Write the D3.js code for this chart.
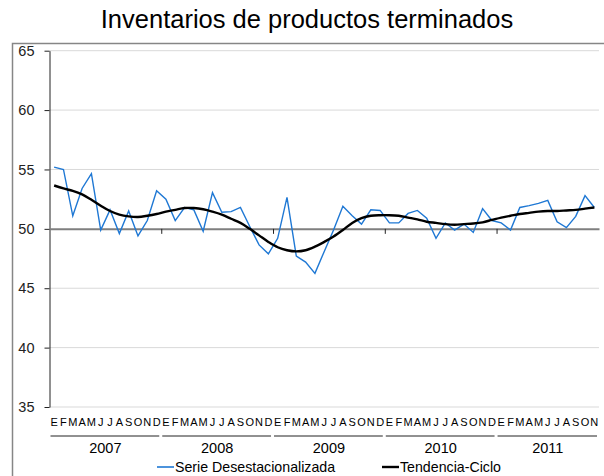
<!DOCTYPE html>
<html>
<head>
<meta charset="utf-8">
<script src="https://cdn.jsdelivr.net/npm/d3@7"></script>
<style>
  body { margin: 0; background: #fff; }
  svg { font-family: "Liberation Sans", Arial, sans-serif; }
</style>
</head>
<body>
<div id="chart"></div>
<script>
const svgWidth = 604;
const svgHeight = 476;
const fontFamily = "'Liberation Sans', Arial, sans-serif";

// Data
const years = ["2007", "2008", "2009", "2010", "2011"];
const monthsPerYear = [12, 12, 12, 12, 11];
const monthLetters = ["E", "F", "M", "A", "M", "J", "J", "A", "S", "O", "N", "D"];

const serieDesest = [
  55.2, 55.0, 51.1, 53.4, 54.65, 49.9, 51.6, 49.6, 51.5, 49.4, 50.7, 53.2,
  52.5, 50.7, 51.8, 51.6, 49.8, 53.05, 51.4, 51.45, 51.8, 50.2, 48.65, 47.9,
  49.2, 52.65, 47.7, 47.2, 46.25, 48.1, 49.9, 51.9, 51.1, 50.4, 51.6, 51.55,
  50.5, 50.5, 51.3, 51.55, 50.9, 49.2, 50.5, 49.9, 50.4, 49.7, 51.7, 50.7,
  50.5, 49.9, 51.8, 51.95, 52.15, 52.4, 50.6, 50.1, 51.05, 52.8, 51.8
];

const tendencia = [
  53.65, 53.4, 53.2, 52.9, 52.45, 51.95, 51.5, 51.2, 51.05, 51.0, 51.1, 51.25,
  51.45, 51.6, 51.75, 51.75, 51.65, 51.45, 51.2, 50.85, 50.5, 50.0, 49.45, 48.9,
  48.45, 48.2, 48.1, 48.2, 48.5, 48.9, 49.35, 49.9, 50.5, 50.9, 51.1, 51.15,
  51.15, 51.1, 50.95, 50.8, 50.6, 50.5, 50.4, 50.35, 50.4, 50.45, 50.55, 50.75,
  50.95, 51.1, 51.25, 51.35, 51.45, 51.5, 51.5, 51.55, 51.6, 51.7, 51.8
];

const yTicks = [35, 40, 45, 50, 55, 60, 65];

// month label for each point
const monthLabels = [];
monthsPerYear.forEach(n => {
  for (let m = 0; m < n; m++) monthLabels.push(monthLetters[m]);
});
const nPoints = monthLabels.length;

const plot = { left: 49.5, right: 599, top: 50.7, bottom: 407 };

const svg = d3.select("#chart")
  .append("svg")
  .attr("width", svgWidth)
  .attr("height", svgHeight);

// outer chart frame (runs off the right and bottom edges)
svg.append("rect")
  .attr("x", 12.5)
  .attr("y", 43.5)
  .attr("width", 640)
  .attr("height", 480)
  .attr("fill", "none")
  .attr("stroke", "#868686")
  .attr("stroke-width", 1.5);

// title
svg.append("text")
  .attr("x", 307)
  .attr("y", 28)
  .attr("text-anchor", "middle")
  .style("font-size", "25.5px")
  .style("fill", "#000")
  .text("Inventarios de productos terminados");

// scales
const xLin = d3.scaleLinear()
  .domain([0, nPoints])
  .range([plot.left, plot.right]);

const xBand = d3.scaleBand()
  .domain(d3.range(nPoints))
  .range([plot.left, plot.right])
  .padding(0);

const xPt = i => xBand(i) + xBand.bandwidth() / 2;

const y = d3.scaleLinear()
  .domain([35, 65])
  .range([plot.bottom, plot.top]);

// gridlines
svg.append("g")
  .selectAll("line")
  .data(yTicks.filter(d => d !== 50))
  .enter()
  .append("line")
  .attr("x1", plot.left)
  .attr("x2", plot.right)
  .attr("y1", d => y(d))
  .attr("y2", d => y(d))
  .attr("stroke", "#d9d9d9")
  .attr("stroke-width", 1);

// y axis
const leftAxis = d3.axisLeft(y)
  .tickValues(yTicks)
  .tickSize(5)
  .tickSizeOuter(0)
  .tickPadding(10);

const yAxis = svg.append("g")
  .attr("transform", `translate(${plot.left}, 0)`)
  .call(leftAxis);
yAxis.select(".domain").attr("stroke", "#222").attr("stroke-width", 1);
yAxis.selectAll(".tick line").attr("stroke", "#222");
yAxis.selectAll("text")
  .style("font-size", "14.5px")
  .style("font-family", fontFamily)
  .attr("fill", "#222");

// x axis crossing at 50, ticks at year boundaries
const yearStarts = [];
let acc = 0;
monthsPerYear.forEach(n => { yearStarts.push(acc); acc += n; });

const bottomAxis = d3.axisBottom(xLin)
  .tickValues(yearStarts.slice(1))
  .tickSize(5)
  .tickSizeOuter(0)
  .tickFormat("");

const xAxis = svg.append("g")
  .attr("transform", `translate(0, ${y(50)})`)
  .call(bottomAxis);
xAxis.select(".domain").attr("stroke", "#7f7f7f").attr("stroke-width", 2);
xAxis.selectAll(".tick line").attr("stroke", "#222");

// month letters
const monthAxis = d3.axisBottom(xBand)
  .tickSize(0)
  .tickPadding(0)
  .tickFormat(i => monthLabels[i]);

const mAxis = svg.append("g")
  .attr("transform", `translate(0, 418)`)
  .call(monthAxis);
mAxis.select(".domain").remove();
mAxis.selectAll("text")
  .style("font-size", "11px")
  .style("font-family", fontFamily)
  .attr("fill", "#000");

// year separators and labels
const yearGroup = svg.append("g");
years.forEach((yr, k) => {
  const start = yearStarts[k];
  const end = start + monthsPerYear[k];
  yearGroup.append("line")
    .attr("x1", xLin(start) + 1)
    .attr("x2", xLin(end) - 2)
    .attr("y1", 436)
    .attr("y2", 436)
    .attr("stroke", "#222")
    .attr("stroke-width", 1);
  yearGroup.append("text")
    .attr("x", xLin((start + end) / 2))
    .attr("y", 453)
    .attr("text-anchor", "middle")
    .style("font-size", "14.5px")
    .attr("fill", "#000")
    .text(yr);
});

// lines
const serieLine = d3.line()
  .x((d, i) => xPt(i))
  .y(d => y(d));

const trendLine = d3.line()
  .x((d, i) => xPt(i))
  .y(d => y(d))
  .curve(d3.curveCatmullRom.alpha(0.5));

svg.append("path")
  .datum(serieDesest)
  .attr("fill", "none")
  .attr("stroke", "#1f78d4")
  .attr("stroke-width", 1.4)
  .attr("d", serieLine);

svg.append("path")
  .datum(tendencia)
  .attr("fill", "none")
  .attr("stroke", "#000")
  .attr("stroke-width", 2.4)
  .attr("d", trendLine);

// legend
const legend = [
  { name: "Serie Desestacionalizada", color: "#1f78d4", width: 1.6, x: 157 },
  { name: "Tendencia-Ciclo", color: "#000", width: 2.4, x: 382 }
];
const legendGroup = svg.append("g");
legend.forEach(l => {
  legendGroup.append("line")
    .attr("x1", l.x)
    .attr("x2", l.x + 17)
    .attr("y1", 467)
    .attr("y2", 467)
    .attr("stroke", l.color)
    .attr("stroke-width", l.width);
  legendGroup.append("text")
    .attr("x", l.x + 18)
    .attr("y", 472)
    .style("font-size", "14.2px")
    .attr("fill", "#000")
    .text(l.name);
});
</script>
</body>
</html>
